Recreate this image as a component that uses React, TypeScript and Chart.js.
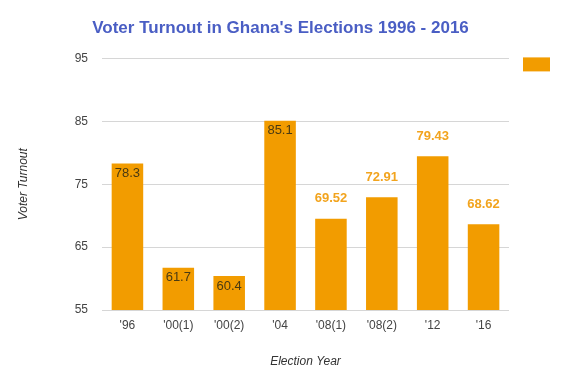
import React, { useEffect, useRef } from "react";
import { Chart, registerables } from "chart.js";

Chart.register(...registerables);

const categories = ["'96", "'00(1)", "'00(2)", "'04", "'08(1)", "'08(2)", "'12", "'16"];
const turnout = [78.3, 61.7, 60.4, 85.1, 69.52, 72.91, 79.43, 68.62];
const labelInside = [true, true, true, true, false, false, false, false];
const yTicks = [55, 65, 75, 85, 95];

const BAR = "#f29c00";
const FONT = "'Liberation Sans', Arial, sans-serif";

const labelPlugin = {
  id: "barLabels",
  afterDatasetsDraw(chart: any) {
    const ctx = chart.ctx;
    const meta = chart.getDatasetMeta(0);
    ctx.save();
    ctx.textAlign = "center";
    ctx.textBaseline = "middle";
    meta.data.forEach((bar: any, i: number) => {
      const v = turnout[i];
      if (labelInside[i]) {
        ctx.font = `13px ${FONT}`;
        ctx.fillStyle = "#4a3a12";
        ctx.fillText(String(v), bar.x, bar.y + 10);
      } else {
        ctx.font = `bold 13px ${FONT}`;
        ctx.fillStyle = "#f2a41e";
        ctx.fillText(String(v), bar.x, bar.y - 20);
      }
    });
    // legend swatch (the legend has no text), aligned with the plot top
    const a = chart.chartArea;
    ctx.fillStyle = BAR;
    ctx.fillRect(a.right + 14, a.top - 1, 27, 14);
    ctx.restore();
  },
};

export default function App() {
  const ref = useRef<HTMLCanvasElement>(null);
  useEffect(() => {
    document.body.style.margin = "0";
    const chart = new Chart(ref.current!, {
      type: "bar",
      data: {
        labels: categories,
        datasets: [
          {
            label: "",
            data: turnout,
            backgroundColor: BAR,
            barPercentage: 0.62,
            categoryPercentage: 1,
          },
        ],
      },
      options: {
        animation: false,
        responsive: false,
        layout: { padding: 0 },
        plugins: {
          legend: {
            display: true,
            position: "right",
            align: "start",
            labels: {
              boxWidth: 27,
              boxHeight: 14,
              padding: 9,
              font: { family: FONT, size: 12 },
              generateLabels: () => [
                { text: "", fillStyle: "rgba(0,0,0,0)", strokeStyle: "rgba(0,0,0,0)", lineWidth: 0, datasetIndex: 0 },
              ],
            },
          },
          tooltip: { enabled: false },
          title: {
            display: true,
            text: "Voter Turnout in Ghana's Elections 1996 - 2016",
            color: "#4a5ec4",
            font: { family: FONT, size: 17, weight: "bold" },
            padding: { top: 18, bottom: 20 },
          },
        },
        scales: {
          x: {
            grid: { display: false, drawTicks: false },
            border: { display: false },
            ticks: {
              color: "#444",
              font: { family: FONT, size: 12 },
              maxRotation: 0,
              autoSkip: false,
              padding: 8,
            },
            title: {
              display: true,
              text: "Election Year",
              color: "#333",
              font: { family: FONT, size: 12, style: "italic" },
              padding: { top: 0, bottom: 11 },
            },
            afterFit: (axis: any) => {
              axis.height = 70;
            },
          },
          y: {
            min: 55,
            max: 95,
            afterBuildTicks: (axis: any) => {
              axis.ticks = yTicks.map((v) => ({ value: v }));
            },
            grid: { color: "#d6d6d6", drawTicks: false },
            border: { display: false },
            ticks: {
              color: "#444",
              font: { family: FONT, size: 12 },
              padding: 14,
            },
            title: {
              display: true,
              text: "Voter Turnout",
              color: "#333",
              font: { family: FONT, size: 12, style: "italic" },
              padding: { top: 16, bottom: 0 },
            },
            afterFit: (axis: any) => {
              axis.width = 102;
            },
          },
        },
      },
      plugins: [labelPlugin],
    });
    return () => chart.destroy();
  }, []);
  return <canvas ref={ref} width={561} height={380} style={{ display: "block" }} />;
}
